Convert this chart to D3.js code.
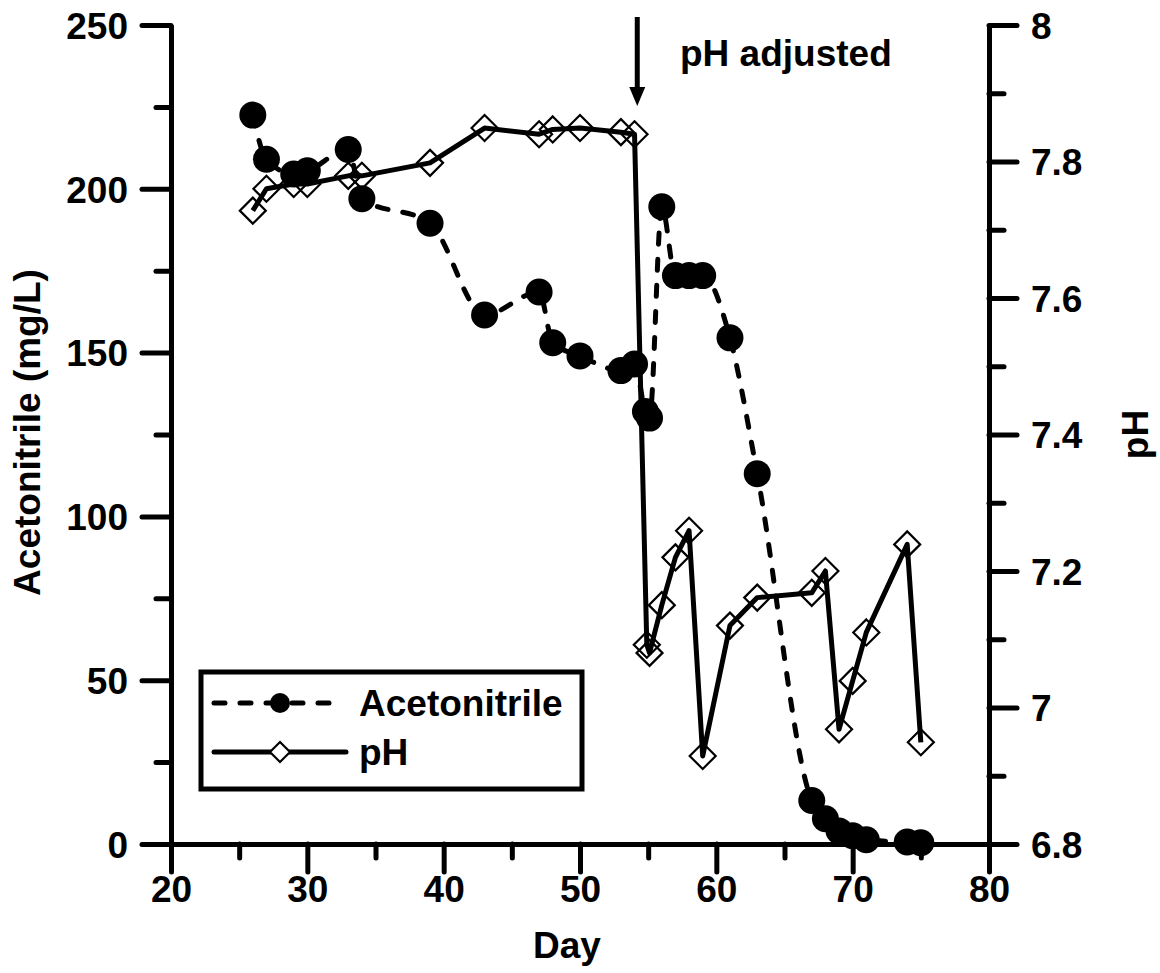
<!DOCTYPE html>
<html>
<head>
<meta charset="utf-8">
<script src="https://cdn.jsdelivr.net/npm/d3@7"></script>
<style>
body { margin: 0; background: #fff; }
text { font-family: "Liberation Sans", Arial, sans-serif; font-weight: bold; fill: #000; }
</style>
</head>
<body>
<div id="chart-area"></div>
<script>
// values
var acnDays   = [26, 27, 29, 30, 33, 34, 39, 43, 47, 48, 50, 53, 54, 54.8, 55.1, 56, 57, 58, 59, 61, 63, 67, 68, 69, 70, 71, 74, 75];
var acnValues = [222.5, 209, 204.5, 205.5, 212, 197, 189.5, 161.5, 168.5, 153, 149, 144.5, 146.5, 132, 130, 194.5, 173.5, 173.5, 173.5, 154.5, 113, 13.3, 7.7, 4, 2.5, 1.3, 0.6, 0.4];
var phDays    = [26, 27, 29, 30, 33, 34, 39, 43, 47, 48, 50, 53, 54, 54.9, 55.1, 56, 57, 58, 59, 61, 63, 67, 68, 69, 70, 71, 74, 75];
var phValues  = [7.728, 7.76, 7.767, 7.767, 7.779, 7.779, 7.798, 7.849, 7.84, 7.847, 7.849, 7.843, 7.84, 7.092, 7.08, 7.15, 7.22, 7.259, 6.929, 7.12, 7.161, 7.168, 7.2, 6.968, 7.039, 7.11, 7.239, 6.949];

var xTicks = [20, 30, 40, 50, 60, 70, 80];
var xMinor = [25, 35, 45, 55, 65, 75];
var leftTicks = [0, 50, 100, 150, 200, 250];
var leftMinor = [25, 75, 125, 175, 225];
var rightTicks = [6.8, 7, 7.2, 7.4, 7.6, 7.8, 8];
var rightMinor = [6.9, 7.1, 7.3, 7.5, 7.7, 7.9];
var seriesNames = ["Acetonitrile", "pH"];
var arrowDay = 54.2;
var arrowText = "pH adjusted";

var W = 1160, H = 973;
var margin = {top: 25, right: 171, bottom: 129, left: 171};
var width = W - margin.left - margin.right;
var height = H - margin.top - margin.bottom;

var svg = d3.select("#chart-area").append("svg")
	.attr("width", W)
	.attr("height", H);

var g = svg.append("g")
	.attr("transform", "translate(" + margin.left + "," + margin.top + ")");

var x = d3.scaleLinear().domain([20, 80]).range([0, width]);
var yL = d3.scaleLinear().domain([0, 250]).range([height, 0]);
var yR = d3.scaleLinear().domain([6.8, 8]).range([height, 0]);

var acn = acnDays.map(function(d, i) { return {day: d, value: acnValues[i]}; });
var ph = phDays.map(function(d, i) { return {day: d, value: phValues[i]}; });

// axes
function styleAxis(sel) {
	sel.selectAll("path").attr("stroke", "#000").attr("stroke-width", 5);
	sel.selectAll("line").attr("stroke", "#000").attr("stroke-width", 5).attr("stroke-linecap", "round");
	sel.selectAll("text").attr("font-size", "37px").attr("fill", "#000")
		.attr("font-family", "'Liberation Sans', Arial, sans-serif").attr("font-weight", "bold");
}

g.append("g").attr("transform", "translate(0," + height + ")")
	.call(d3.axisBottom(x).tickValues(xMinor).tickSize(14).tickSizeOuter(0).tickFormat(""))
	.call(styleAxis);
g.append("g").call(d3.axisLeft(yL).tickValues(leftMinor).tickSize(15).tickSizeOuter(0).tickFormat(""))
	.call(styleAxis);
g.append("g").attr("transform", "translate(" + width + ",0)")
	.call(d3.axisRight(yR).tickValues(rightMinor).tickSize(15).tickSizeOuter(0).tickFormat(""))
	.call(styleAxis);

var xAxis = g.append("g").attr("transform", "translate(0," + height + ")")
	.call(d3.axisBottom(x).tickValues(xTicks).tickSize(28).tickSizeOuter(0).tickPadding(4).tickFormat(d3.format("d")))
	.call(styleAxis);
var leftAxis = g.append("g")
	.call(d3.axisLeft(yL).tickValues(leftTicks).tickSize(29).tickSizeOuter(0).tickPadding(14).tickFormat(d3.format("d")))
	.call(styleAxis);
leftAxis.selectAll("text").attr("dy", "0.36em");
var rightAxis = g.append("g").attr("transform", "translate(" + width + ",0)")
	.call(d3.axisRight(yR).tickValues(rightTicks).tickSize(28).tickSizeOuter(0).tickPadding(14).tickFormat(function(d) { return String(+d.toFixed(1)); }))
	.call(styleAxis);
rightAxis.selectAll("text").attr("dy", "0.36em");

// axis titles
svg.append("text")
	.attr("transform", "translate(40," + (margin.top + height / 2 - 2) + ") rotate(-90)")
	.attr("text-anchor", "middle")
	.attr("font-size", "37px")
	.text("Acetonitrile (mg/L)");

svg.append("text")
	.attr("transform", "translate(1148," + (margin.top + height / 2) + ") rotate(-90)")
	.attr("text-anchor", "middle")
	.attr("font-size", "37px")
	.text("pH");

svg.append("text")
	.attr("x", 567)
	.attr("y", 958)
	.attr("text-anchor", "middle")
	.attr("font-size", "37px")
	.text("Day");

// acetonitrile series
var acnLine = d3.line()
	.x(function(d) { return x(d.day); })
	.y(function(d) { return yL(d.value); })
	.curve(d3.curveMonotoneX);

g.append("path")
	.datum(acn)
	.attr("fill", "none")
	.attr("stroke", "#000")
	.attr("stroke-width", 5)
	.attr("stroke-linecap", "round")
	.attr("stroke-dasharray", "11,15")
	.attr("d", acnLine);

g.selectAll("circle.acn").data(acn).enter().append("circle")
	.attr("class", "acn")
	.attr("cx", function(d) { return x(d.day); })
	.attr("cy", function(d) { return yL(d.value); })
	.attr("r", 13.5)
	.attr("fill", "#000");

// pH series
var phLine = d3.line()
	.x(function(d) { return x(d.day); })
	.y(function(d) { return yR(d.value); });

g.append("path")
	.datum(ph)
	.attr("fill", "none")
	.attr("stroke", "#000")
	.attr("stroke-width", 5)
	.attr("stroke-linejoin", "round")
	.attr("d", phLine);

function diamond(r) { return "M0," + (-r) + "L" + r + ",0L0," + r + "L" + (-r) + ",0Z"; }

g.selectAll("path.ph").data(ph).enter().append("path")
	.attr("class", "ph")
	.attr("transform", function(d) { return "translate(" + x(d.day) + "," + yR(d.value) + ")"; })
	.attr("d", diamond(13))
	.attr("fill", "none")
	.attr("stroke", "#000")
	.attr("stroke-width", 2.2);

// arrow + annotation
var ax = x(arrowDay);
g.append("line")
	.attr("x1", ax).attr("x2", ax)
	.attr("y1", 17 - margin.top).attr("y2", 92 - margin.top)
	.attr("stroke", "#000").attr("stroke-width", 5);
g.append("path")
	.attr("d", "M" + (ax - 8) + "," + (87 - margin.top) + "L" + ax + "," + (106 - margin.top) + "L" + (ax + 8) + "," + (87 - margin.top) + "Z")
	.attr("fill", "#000");
svg.append("text")
	.attr("x", 680)
	.attr("y", 66)
	.attr("font-size", "37px")
	.text(arrowText);

// legend
var legend = svg.append("g");
legend.append("rect")
	.attr("x", 201).attr("y", 672)
	.attr("width", 381).attr("height", 117)
	.attr("fill", "#fff")
	.attr("stroke", "#000")
	.attr("stroke-width", 5);

legend.append("line")
	.attr("x1", 214).attr("x2", 340).attr("y1", 703).attr("y2", 703)
	.attr("stroke", "#000").attr("stroke-width", 5)
	.attr("stroke-linecap", "round").attr("stroke-dasharray", "11,15");
legend.append("circle").attr("cx", 280).attr("cy", 703).attr("r", 10).attr("fill", "#000");
legend.append("text").attr("x", 359).attr("y", 716).attr("font-size", "37px").text(seriesNames[0]);

legend.append("line")
	.attr("x1", 214).attr("x2", 346).attr("y1", 752).attr("y2", 752)
	.attr("stroke", "#000").attr("stroke-width", 5)
	.attr("stroke-linecap", "round");
legend.append("path")
	.attr("transform", "translate(280,752)")
	.attr("d", diamond(10))
	.attr("fill", "#fff")
	.attr("stroke", "#000")
	.attr("stroke-width", 2.2);
legend.append("text").attr("x", 359).attr("y", 765).attr("font-size", "37px").text(seriesNames[1]);
</script>
</body>
</html>
